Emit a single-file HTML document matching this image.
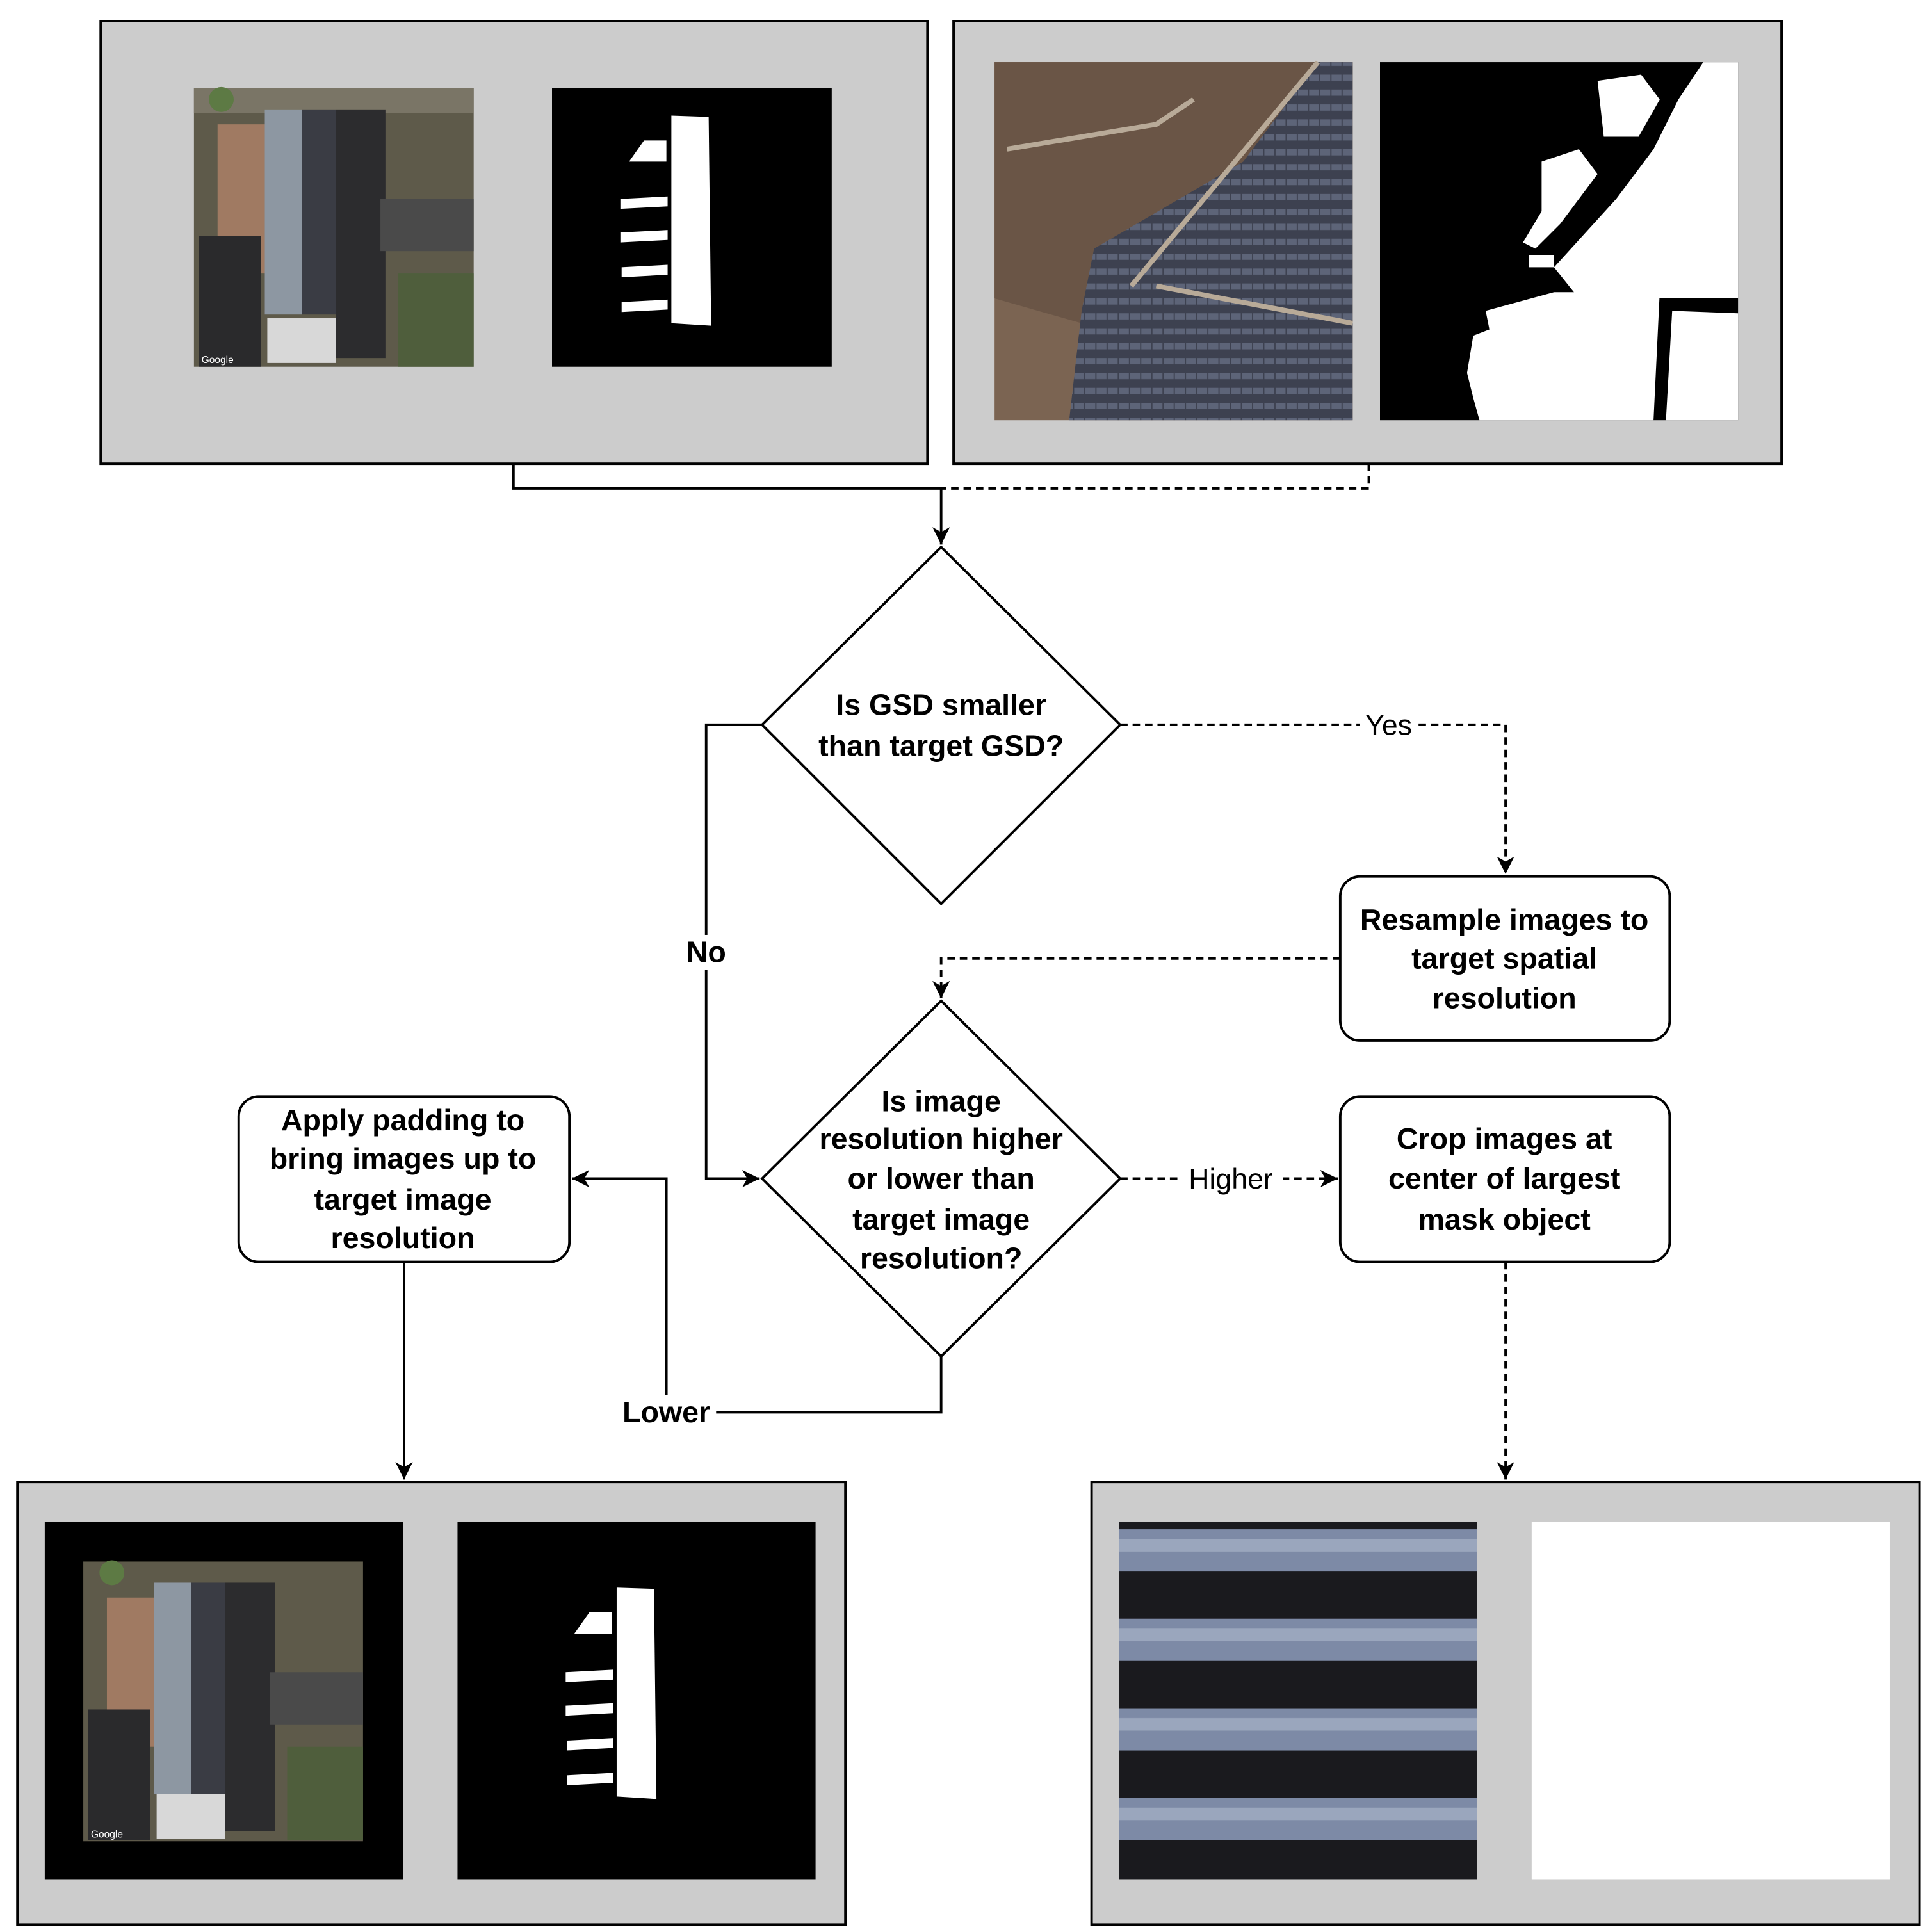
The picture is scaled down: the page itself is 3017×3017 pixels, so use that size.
<!DOCTYPE html>
<html><head><meta charset="utf-8"><style>html,body{margin:0;padding:0;background:#fff}svg{display:block}</style></head>
<body>
<svg xmlns="http://www.w3.org/2000/svg" width="3017" height="3017" viewBox="0 0 1554 1554">
<defs>
<marker id="ah" markerWidth="16" markerHeight="16" refX="14" refY="8" orient="auto" markerUnits="userSpaceOnUse">
<path d="M0,1 L14,8 L0,15 L4,8 Z" fill="#000"/></marker>
<pattern id="pv" width="9" height="12" patternUnits="userSpaceOnUse">
<rect width="9" height="12" fill="#3d4150"/><rect width="8" height="5" fill="#5d6478"/></pattern>
<pattern id="stripe" width="288" height="72" patternUnits="userSpaceOnUse">
<rect width="288" height="72" fill="#1a1a1e"/><rect y="6" width="288" height="34" fill="#7d8aa6"/><rect y="14" width="288" height="10" fill="#9aa6bd"/></pattern>
</defs>
<g font-family="Liberation Sans, sans-serif" font-weight="bold" font-size="24" text-anchor="middle">
<!-- top-left panel -->
<rect x="81" y="17" width="665" height="356" fill="#cccccc" stroke="#000" stroke-width="2"/>
<rect x="156" y="71" width="225" height="224" fill="#5e5a4a"/>
<rect x="156" y="71" width="225" height="20" fill="#7a7566"/>
<rect x="175" y="100" width="38" height="120" fill="#a07a62"/>
<rect x="213" y="88" width="30" height="165" fill="#8d97a2"/>
<rect x="243" y="88" width="27" height="165" fill="#3a3c44"/>
<rect x="270" y="88" width="40" height="200" fill="#2c2c2e"/>
<rect x="306" y="160" width="75" height="42" fill="#4a4a4a"/>
<rect x="160" y="190" width="50" height="105" fill="#2a2a2c"/>
<rect x="215" y="256" width="55" height="36" fill="#d8d8d8"/>
<circle cx="178" cy="80" r="10" fill="#5d7a44"/>
<rect x="320" y="220" width="61" height="75" fill="#4f5e3c"/>
<text x="175" y="292" font-size="8" font-weight="normal" fill="#fff">Google</text>
<rect x="444" y="71" width="225" height="224" fill="#000"/>
<path d="M540,93 L570,94 L572,262 L540,260 Z" fill="#fff"/>
<path d="M506,130 L518,113 L536,113 L536,130 Z" fill="#fff"/>
<path d="M499,160 L537,158 L537,166 L499,168 Z M499,187 L537,185 L537,193 L499,195 Z M500,215 L537,213 L537,221 L500,223 Z M500,243 L537,241 L537,249 L500,251 Z" fill="#fff"/>
<!-- top-right panel -->
<rect x="767" y="17" width="666" height="356" fill="#cccccc" stroke="#000" stroke-width="2"/>
<rect x="800" y="50" width="288" height="288" fill="#7b6452"/>
<path d="M800,50 L1088,50 L1088,90 L1000,140 L940,230 L870,260 L800,240 Z" fill="#6a5546"/>
<path d="M880,200 L1000,130 L1060,50 L1088,50 L1088,338 L860,338 L870,250 Z" fill="url(#pv)"/>
<path d="M810,120 L930,100 L960,80 M910,230 L1060,50 M930,230 L1088,260" stroke="#b8aa98" stroke-width="4" fill="none"/>
<rect x="1110" y="50" width="288" height="288" fill="#000"/>
<path d="M1370,50 L1398,50 L1398,240 L1270,240 L1250,215 L1300,160 L1330,120 L1350,80 Z" fill="#fff"/>
<path d="M1285,65 L1320,60 L1335,80 L1318,110 L1290,110 Z" fill="#fff"/>
<path d="M1240,130 L1270,120 L1285,140 L1255,180 L1235,200 L1225,195 L1240,170 Z" fill="#fff"/>
<path d="M1230,205 L1250,205 L1250,215 L1230,215 Z" fill="#fff"/>
<path d="M1195,250 L1250,235 L1335,235 L1330,338 L1190,338 L1185,320 L1180,300 L1185,270 L1198,265 Z" fill="#fff"/>
<path d="M1345,250 L1398,252 L1398,338 L1340,338 Z" fill="#fff"/>
<!-- connectors top -->
<path d="M413,373 V393 H757 V438" fill="none" stroke="#000" stroke-width="2" marker-end="url(#ah)"/>
<path d="M1101,373 V393 H757" fill="none" stroke="#000" stroke-width="2" stroke-dasharray="6,4"/>
<!-- diamond 1 -->
<path d="M757,440 L901,583 L757,727 L613,583 Z" fill="#fff" stroke="#000" stroke-width="2"/>
<text x="757" y="575">Is GSD smaller</text>
<text x="757" y="608">than target GSD?</text>
<!-- Yes -->
<path d="M901,583 H1211 V703" fill="none" stroke="#000" stroke-width="2" stroke-dasharray="6,4" marker-end="url(#ah)"/>
<rect x="1094" y="570" width="46" height="26" fill="#fff"/>
<text x="1117" y="591" font-weight="normal" font-size="23">Yes</text>
<!-- resample box -->
<rect x="1078" y="705" width="265" height="132" rx="16" fill="#fff" stroke="#000" stroke-width="2"/>
<text x="1210" y="748">Resample images to</text>
<text x="1210" y="779">target spatial</text>
<text x="1210" y="811">resolution</text>
<path d="M1078,771 H757 V803" fill="none" stroke="#000" stroke-width="2" stroke-dasharray="6,4" marker-end="url(#ah)"/>
<!-- No -->
<path d="M613,583 H568 V948 H611" fill="none" stroke="#000" stroke-width="2" marker-end="url(#ah)"/>
<rect x="548" y="752" width="40" height="28" fill="#fff"/>
<text x="568" y="774">No</text>
<!-- diamond 2 -->
<path d="M757,805 L901,948 L757,1091 L613,948 Z" fill="#fff" stroke="#000" stroke-width="2"/>
<text x="757" y="894">Is image</text>
<text x="757" y="924">resolution higher</text>
<text x="757" y="956">or lower than</text>
<text x="757" y="989">target image</text>
<text x="757" y="1020">resolution?</text>
<!-- Higher -->
<path d="M901,948 H1076" fill="none" stroke="#000" stroke-width="2" stroke-dasharray="6,4" marker-end="url(#ah)"/>
<rect x="948" y="934" width="84" height="28" fill="#fff"/>
<text x="990" y="956" font-weight="normal" font-size="23">Higher</text>
<!-- crop box -->
<rect x="1078" y="882" width="265" height="133" rx="16" fill="#fff" stroke="#000" stroke-width="2"/>
<text x="1210" y="924">Crop images at</text>
<text x="1210" y="956">center of largest</text>
<text x="1210" y="989">mask object</text>
<path d="M1211,1015 V1190" fill="none" stroke="#000" stroke-width="2" stroke-dasharray="6,4" marker-end="url(#ah)"/>
<!-- Lower -->
<path d="M757,1091 V1136 H536 V948 H460" fill="none" stroke="#000" stroke-width="2" marker-end="url(#ah)"/>
<rect x="496" y="1122" width="80" height="28" fill="#fff"/>
<text x="536" y="1144">Lower</text>
<!-- pad box -->
<rect x="192" y="882" width="266" height="133" rx="16" fill="#fff" stroke="#000" stroke-width="2"/>
<text x="324" y="909">Apply padding to</text>
<text x="324" y="940">bring images up to</text>
<text x="324" y="973">target image</text>
<text x="324" y="1004">resolution</text>
<path d="M325,1015 V1190" fill="none" stroke="#000" stroke-width="2" marker-end="url(#ah)"/>
<!-- bottom-left panel -->
<rect x="14" y="1192" width="666" height="356" fill="#cccccc" stroke="#000" stroke-width="2"/>
<rect x="36" y="1224" width="288" height="288" fill="#000"/>
<rect x="67" y="1256" width="225" height="225" fill="#5e5a4a"/>
<rect x="86" y="1285" width="38" height="120" fill="#a07a62"/>
<rect x="124" y="1273" width="30" height="170" fill="#8d97a2"/>
<rect x="154" y="1273" width="27" height="170" fill="#3a3c44"/>
<rect x="181" y="1273" width="40" height="200" fill="#2c2c2e"/>
<rect x="217" y="1345" width="75" height="42" fill="#4a4a4a"/>
<rect x="71" y="1375" width="50" height="105" fill="#2a2a2c"/>
<rect x="126" y="1443" width="55" height="36" fill="#d8d8d8"/>
<circle cx="90" cy="1265" r="10" fill="#5d7a44"/>
<rect x="231" y="1405" width="61" height="75" fill="#4f5e3c"/>
<text x="86" y="1478" font-size="8" font-weight="normal" fill="#fff">Google</text>
<rect x="368" y="1224" width="288" height="288" fill="#000"/>
<path d="M496,1277 L526,1278 L528,1447 L496,1445 Z" fill="#fff"/>
<path d="M462,1314 L474,1297 L492,1297 L492,1314 Z" fill="#fff"/>
<path d="M455,1345 L493,1343 L493,1351 L455,1353 Z M455,1372 L493,1370 L493,1378 L455,1380 Z M456,1400 L493,1398 L493,1406 L456,1408 Z M456,1428 L493,1426 L493,1434 L456,1436 Z" fill="#fff"/>
<!-- bottom-right panel -->
<rect x="878" y="1192" width="666" height="356" fill="#cccccc" stroke="#000" stroke-width="2"/>
<rect x="900" y="1224" width="288" height="288" fill="url(#stripe)"/>
<rect x="1232" y="1224" width="288" height="288" fill="#fff"/>
</g>
</svg>
</body></html>
